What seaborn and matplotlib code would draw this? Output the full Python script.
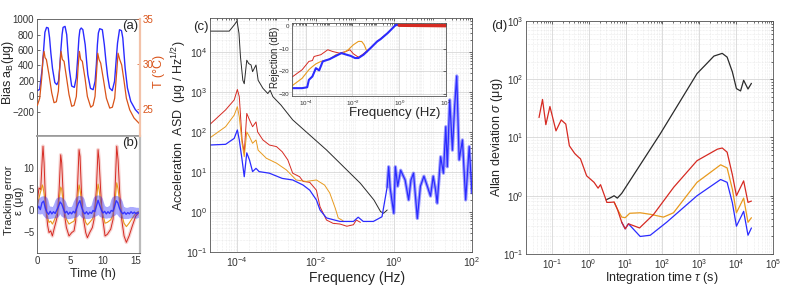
import numpy as np
import matplotlib
matplotlib.use("Agg")
import matplotlib.pyplot as plt
import seaborn as sns
from matplotlib.ticker import LogLocator, NullFormatter

sns.set_theme(style="white")
plt.rcParams['font.family'] = ['Liberation Sans', 'DejaVu Sans']
plt.rcParams['mathtext.fontset'] = 'custom'
plt.rcParams['mathtext.rm'] = 'Liberation Sans'
plt.rcParams['mathtext.it'] = 'Liberation Sans:italic'
plt.rcParams['mathtext.bf'] = 'Liberation Sans:bold'

# ---------------- (a) bias and temperature vs time ----------------
t_bias = [0.0, 0.4, 0.8, 1.0, 1.2, 1.45, 1.7, 1.9, 2.1, 2.35, 2.7, 3.0, 3.25, 3.45,
          3.6, 3.8, 3.95, 4.25, 4.5, 4.7, 4.9, 5.25, 5.65, 5.95, 6.15, 6.35, 6.5, 6.7,
          6.95, 7.3, 7.5, 7.7, 8.1, 8.5, 8.8, 9.0, 9.15, 9.3, 9.5, 9.9, 10.2, 10.45,
          10.7, 11.0, 11.4, 11.75, 11.95, 12.2, 12.5, 12.8, 13.0, 13.35, 13.7, 14.2,
          14.9, 15.6]
bias = [75, 90, 368, 600, 830, 892, 884, 760, 560, 360, 180, 153, 196, 380,
        583, 800, 892, 905, 798, 560, 350, 135, 118, 239, 480, 755, 860, 884,
        862, 669, 470, 282, 105, 88, 196, 420, 669, 820, 875, 862, 669, 450,
        262, 110, 75, 196, 420, 690, 862, 850, 755, 368, 110, -62,
        -170, -234]

t_temp = [0.05, 0.41, 0.71, 0.91, 1.07, 1.22, 1.42, 1.82, 2.23, 2.58, 2.93, 3.24, 3.44,
          3.64, 3.84, 4.1, 4.45, 4.85, 5.26, 5.61, 5.96, 6.22, 6.42, 6.62, 6.87, 7.28,
          7.63, 8.14, 8.49, 8.79, 9.05, 9.2, 9.4, 9.65, 10.06, 10.51, 11.02, 11.42,
          11.77, 12.08, 12.28, 12.53, 12.83, 13.19, 13.54, 14.05, 14.7, 15.61]
temp = [25.4, 26.2, 28.4, 30.7, 31.4, 30.7, 30.5, 28.8, 26.8, 25.7, 25.8, 27.0, 29.6,
        31.4, 30.5, 30.3, 28.6, 26.6, 25.3, 25.4, 26.4, 29.6, 31.4, 30.5, 30.3, 28.4,
        26.4, 25.2, 25.4, 26.4, 29.4, 31.2, 30.5, 30.1, 28.3, 26.2, 25.1, 25.2,
        26.2, 29.2, 31.2, 30.5, 29.9, 28.1, 26.2, 24.9, 24.0, 23.3]

# ---------------- (b) tracking error ----------------
t_err = [0.06, 0.31, 0.56, 0.81, 0.91, 1.07, 1.22, 1.42, 1.62, 1.82, 2.08, 2.33, 2.58,
         2.83, 3.09, 3.34, 3.59, 3.74, 3.94, 4.15, 4.45, 4.85, 5.26, 5.61, 5.86, 6.12,
         6.37, 6.52, 6.72, 6.97, 7.38, 7.63, 7.98, 8.39, 8.64, 8.99, 9.25, 9.4, 9.65,
         9.9, 10.31, 10.66, 11.17, 11.52, 11.82, 12.08, 12.28, 12.53, 12.83, 13.19,
         13.54, 13.95, 14.45, 14.96, 15.46]
err_red = [2.6, 5.3, 4.9, 12.7, 15.1, 11.2, 4.9, -0.5, -3.6, -5.2, -4.8, -6.0, -4.4,
           -2.9, -1.3, 4.6, 13.1, 11.2, 4.6, -0.9, -4.0, -6.0, -5.2, -4.8, -2.5, 4.9,
           14.3, 12.7, 4.9, -1.3, -5.2, -6.4, -5.2, -4.0, -2.1, 4.9, 14.3, 11.9, 4.6,
           -1.3, -6.0, -5.6, -4.4, -2.1, 4.9, 15.1, 11.9, 4.2, -2.1, -6.0,
           -7.5, -6.0, -3.6, -1.3, -0.5]
err_orange = [1.0, 3.0, 4.5, 6.0, 5.5, 4.0, 2.0, -0.5, -1.8, -2.8, -2.5, -3.2, -2.4,
              -1.5, -0.5, 2.5, 5.5, 5.0, 2.5, -0.3, -2.0, -3.2, -2.8, -2.5, -1.2, 2.5,
              6.0, 5.0, 2.5, -0.5, -2.8, -3.4, -2.8, -2.0, -1.0, 2.5, 6.2, 5.0, 2.0,
              -0.5, -3.0, -2.8, -2.2, -1.0, 2.5, 6.5, 5.0, 2.0, -1.0, -3.0,
              -3.8, -3.0, -1.8, -0.6, -0.2]
t_blue = [0.0, 0.25, 0.5, 0.75, 1.0, 1.25, 1.5, 1.75, 2.0, 2.25, 2.5, 2.75, 3.0, 3.25,
          3.5, 3.75, 4.0, 4.25, 4.5, 4.75, 5.0, 5.25, 5.5, 5.75, 6.0, 6.25, 6.5, 6.75,
          7.0, 7.25, 7.5, 7.75, 8.0, 8.25, 8.5, 8.75, 9.0, 9.25, 9.5, 9.75, 10.0, 10.25,
          10.5, 10.75, 11.0, 11.25, 11.5, 11.75, 12.0, 12.25, 12.5, 12.75, 13.0, 13.25,
          13.5, 13.75, 14.0, 14.25, 14.5, 14.75, 15.0, 15.25, 15.5]
err_blue = [0.3, 1.0, 0.2, 1.8, 2.2, 0.6, -0.4, -0.9, -0.2, -0.8, -0.3, -0.7, 0.1, 0.9,
            2.0, 1.5, 0.4, -0.6, -0.2, -0.9, -0.4, -0.8, -0.2, -0.6, 0.5, 1.6, 2.3, 0.8,
            -0.3, -0.8, -0.3, -0.9, -0.4, -0.7, 0.0, -0.3, 1.0, 2.4, 1.2, 0.1, -0.6, -0.2,
            -0.8, -0.3, -0.7, 0.0, -0.2, 0.9, 2.3, 1.8, 0.5, -0.3, -0.8, -0.4,
            -0.9, -0.5, -0.8, -0.3, -0.7, -0.4, -0.8, -0.5, -0.6]

# ---------------- (c) acceleration ASD ----------------
f_black = [1.9e-5, 6.2e-5, 8.3e-5, 9.8e-5, 1.1e-4, 1.2e-4, 1.38e-4, 1.5e-4, 1.74e-4,
           1.95e-4, 2.24e-4, 2.45e-4, 3.0e-4, 3.4e-4, 4.5e-4, 6.0e-4, 6.9e-4, 8.1e-4,
           1.3e-3, 2.6e-3, 1.9e-2, 0.14, 0.31, 0.46, 0.55, 0.68]
asd_black = [3.3e4, 3.3e4, 4.7e4, 5.9e4, 2.9e4, 7.6e3, 1.95e3, 1.6e3, 6.2e3,
             5.1e3, 4.7e3, 3.2e3, 4.7e3, 1.95e3, 1.23e3, 9.1e2, 1.1e3, 7.6e2,
             4.7e2, 2.0e2, 35.5, 5.2, 2.0, 1.02, 0.93, 1.12]

f_red = [1.9e-5, 5.0e-5, 8.3e-5, 1.0e-4, 1.12e-4, 1.32e-4, 1.5e-4, 1.74e-4, 2.04e-4,
         2.45e-4, 3.0e-4, 3.3e-4, 4.5e-4, 6.6e-4, 1.0e-3, 1.4e-3, 1.95e-3, 2.6e-3,
         3.9e-3, 4.8e-3, 7.1e-3, 1.05e-2, 1.3e-2, 1.9e-2, 2.8e-2, 4.2e-2, 6.3e-2,
         9.3e-2, 0.11, 0.14]
asd_red = [148, 355, 630, 1150, 760, 63, 30, 290, 200,
           135, 178, 100, 63, 47, 43, 32, 20, 9.3,
           7.6, 5.8, 5.5, 3.5, 1.35, 0.63, 0.52, 0.5, 0.44,
           0.48, 0.63, 0.55]

f_orange = [1.9e-5, 5.0e-5, 8.3e-5, 1.0e-4, 1.12e-4, 1.32e-4, 1.5e-4, 1.74e-4, 2.04e-4,
            2.45e-4, 3.0e-4, 3.4e-4, 5.5e-4, 1.0e-3, 1.8e-3, 3.2e-3, 5.8e-3, 1.05e-2,
            1.7e-2, 2.3e-2, 3.2e-2, 3.8e-2, 5.1e-2]
asd_orange = [69, 135, 263, 427, 240, 52, 24, 100, 76,
              52, 63, 35, 22, 16.6, 11.2, 6.3, 5.8, 6.3,
              4.7, 3.0, 1.23, 0.71, 0.6]

f_blue = [1.9e-5, 5.0e-5, 8.3e-5, 1.0e-4, 1.12e-4, 1.32e-4, 1.5e-4, 1.74e-4, 2.04e-4,
          2.45e-4, 3.0e-4, 3.6e-4, 6.6e-4, 1.4e-3, 2.6e-3, 4.8e-3, 7.1e-3, 1.05e-2,
          1.3e-2, 1.9e-2, 4.2e-2, 9.3e-2, 0.123, 0.166, 0.30, 0.50, 0.68, 0.74, 0.81,
          1.0, 1.1, 1.26, 1.5, 1.95, 2.4, 2.75, 3.2, 4.0, 4.8, 5.9, 7.2, 8.7, 10.2,
          11.7, 12.9, 15.8, 18.6, 21.4, 23.4, 27, 31.6, 36, 40.7, 47, 57, 69, 85, 100]
asd_blue = [47, 49, 69, 112, 63, 20, 7.6, 30, 20,
            10.2, 12.3, 10.2, 9.3, 6.9, 6.3, 4.7, 3.5, 2.0,
            1.12, 0.71, 0.58, 0.58, 0.74, 0.58, 0.58, 0.76, 4.3, 13.5, 3.9,
            0.93, 13.5, 4.4, 11, 6.3, 2.0, 6.3, 9.3, 0.69, 4.4, 7.8, 4.4, 2.5, 7.8,
            3.6, 1.66, 24, 9.3, 135, 13.5, 630, 35, 427, 2500, 20, 63, 2.0, 43, 3.0]

# ---------------- (c) inset: rejection ----------------
fi_red = [2.6e-5, 7.1e-5, 1.38e-4, 1.95e-4, 2.3e-4, 4.5e-4, 8.9e-4, 1.45e-3, 2.8e-3,
          5.2e-3, 7.8e-3, 1.1e-2, 1.8e-2, 2.5e-2, 5.9e-2, 0.115, 0.32, 0.72, 1.0, 100]
rej_red = [-22.6, -19.3, -15.6, -15.2, -13.4, -12.6, -10.4, -11.2, -11.9,
           -11.2, -10.4, -12.2, -13.7, -12.8, -9.7, -6.7, -3.0, 0.7, 0.5, 0.3]
fi_orange = [2.6e-5, 7.1e-5, 1.38e-4, 1.95e-4, 2.75e-4, 4.5e-4, 1.05e-3, 2.0e-3, 4.0e-3,
             6.6e-3, 1.1e-2, 1.8e-2, 2.5e-2, 3.2e-2, 3.9e-2, 4.2e-2]
rej_orange = [-26.5, -23.1, -19.3, -17.9, -16.7, -15.6, -14.6, -12.6, -11.9,
              -10.4, -8.2, -6.7, -6.7, -8.2, -10.4, -11.5]
fi_blue = [2.6e-5, 7.1e-5, 1.17e-4, 1.38e-4, 1.95e-4, 2.75e-4, 3.8e-4, 5.4e-4, 1.05e-3,
           2.0e-3, 3.4e-3, 5.6e-3, 8.3e-3, 1.3e-2, 1.8e-2, 3.0e-2, 5.9e-2, 0.115, 0.16,
           0.32, 0.52, 0.72, 1.0]
rej_blue = [-27.5, -27.5, -27.1, -23.8, -22.3, -18.6, -19.6, -15.6, -14.6,
            -13.1, -11.9, -12.6, -13.1, -14.1, -14.1, -12.6, -9.7, -6.7, -5.7,
            -3.0, -0.8, 0.7, 0.6]

# ---------------- (d) Allan deviation ----------------
tau_red = [0.045, 0.056, 0.069, 0.089, 0.13, 0.18, 0.24, 0.30, 0.42, 0.53, 0.60, 0.88,
           1.4, 1.8, 2.1, 2.96, 3.1, 3.8, 4.9, 6.0, 7.9, 9.8, 12, 24, 58, 203, 870,
           3100, 4200, 5700, 7900, 10200, 16000, 21000, 26000]
adev_red = [22, 45, 16.6, 34, 13, 20, 17, 7.2, 5.3, 4.6, 4.3, 2.2,
            1.7, 1.35, 1.55, 0.85, 0.77, 0.77, 0.78, 0.59, 0.35, 0.27, 0.33, 0.28, 0.48,
            1.4, 4.0, 6.3, 6.6, 5.6, 2.3, 1.0, 1.8, 0.77, 0.81]
tau_black = [2.96, 4.0, 4.9, 6.0, 7.9, 87, 870, 1600, 2500, 4200, 5700, 7900, 10200,
             13200, 16000, 21000, 26000]
adev_black = [0.85, 0.93, 1.0, 0.91, 1.1, 11.5, 125, 186, 250, 278, 240, 134, 69,
              63, 96, 68, 85]
tau_orange = [4.9, 6.0, 7.9, 9.8, 13, 25, 47, 107, 200, 870, 3800, 5700, 7900, 10200,
              16000, 21000, 26000]
adev_orange = [0.78, 0.59, 0.43, 0.42, 0.5, 0.51, 0.48, 0.43, 0.51, 1.7, 3.4, 3.0, 1.3,
               0.51, 0.91, 0.35, 0.42]
tau_blue = [7.9, 9.8, 12, 25, 47, 130, 870, 3800, 5700, 7900, 10200, 16000, 21000, 26000]
adev_blue = [0.35, 0.27, 0.33, 0.2, 0.21, 0.35, 1.0, 1.9, 1.7, 0.76, 0.3, 0.54, 0.21, 0.28]

BLUE = '#2b2bff'
RED = '#d62a22'
ORANGE = '#e89a1e'
TCOL = '#d95319'
BLACK = '#2a2a2a'
TICK_FS = 7


def line(ax, x, y, color, lw=0.8, alpha=1.0, z=2):
    sns.lineplot(x=x, y=y, ax=ax, color=color, linewidth=lw, alpha=alpha,
                 estimator=None, sort=False, legend=False, zorder=z)


def style(ax, fs=TICK_FS, box=True):
    ax.tick_params(which='both', direction='in', labelsize=fs, colors='#333333',
                   top=box, right=box, length=2.5, width=0.5, pad=2)
    ax.tick_params(which='minor', length=1.3)
    for s in ax.spines.values():
        s.set_color('#555555')
        s.set_linewidth(0.6)


def log_grid(ax):
    ax.grid(which='major', color='#cfcfcf', lw=0.5, ls='-')
    ax.grid(which='minor', color='#dadada', lw=0.4, ls=':')
    ax.set_axisbelow(True)


fig = plt.figure(figsize=(7.89, 2.86), dpi=100)
ax_a = fig.add_axes([0.0469, 0.5245, 0.1305, 0.409])
ax_b = fig.add_axes([0.0469, 0.1154, 0.1305, 0.409])
ax_c = fig.add_axes([0.2662, 0.1189, 0.332, 0.818])
ax_in = fig.add_axes([0.370, 0.6643, 0.1952, 0.2552])
ax_d = fig.add_axes([0.6667, 0.1119, 0.313, 0.8147])

# ---- (a)
line(ax_a, t_bias, bias, BLUE, lw=1.0)
ax_a.set_xlim(0, 15.6)
ax_a.set_ylim(-510, 1000)
ax_a.set_yticks([-200, 0, 200, 400, 600, 800, 1000])
ax_a.set_xticks([0, 5, 10, 15])
ax_a.set_xticklabels([])
style(ax_a, box=False)
ax_a.set_ylabel('Bias a$_{\\rm B}$(μg)', fontsize=9, labelpad=1)
ax_a.yaxis.set_label_coords(-0.205, 0.54)
ax_a.text(0.985, 0.99, '(a)', transform=ax_a.transAxes, ha='right', va='top', fontsize=9.5)
ax_t = ax_a.twinx()
line(ax_t, t_temp, temp, TCOL, lw=0.9)
ax_t.set_ylim(22, 35)
ax_t.set_yticks([25, 30, 35])
ax_t.tick_params(direction='in', labelsize=TICK_FS, colors=TCOL, length=2.5, width=0.5, pad=2)
ax_t.set_ylabel('T (°C)', fontsize=9, color=TCOL)
ax_t.yaxis.set_label_coords(1.13, 0.55)
for s in ax_t.spines.values():
    s.set_visible(False)
ax_t.spines['right'].set_visible(True)
ax_t.spines['right'].set_color('#f3c2a8')
ax_t.spines['right'].set_linewidth(1.6)
ax_a.spines['bottom'].set_color('#999999')
ax_a.spines['bottom'].set_linewidth(1.2)

# ---- (b)
line(ax_b, t_err, err_red, RED, lw=2.6, alpha=0.2)
line(ax_b, t_err, err_red, RED, lw=0.7)
line(ax_b, t_err, err_orange, ORANGE, lw=0.8)
line(ax_b, t_blue, err_blue, BLUE, lw=7, alpha=0.4)
line(ax_b, t_blue, err_blue, BLUE, lw=1.0, alpha=0.9)
ax_b.set_xlim(0, 15.6)
ax_b.set_ylim(-10, 17.5)
ax_b.set_yticks([-5, 0, 5, 10])
ax_b.set_xticks([0, 5, 10, 15])
style(ax_b, box=False)
ax_b.spines['right'].set_color('#bbbbbb')
ax_b.spines['right'].set_linewidth(1.6)
ax_b.spines['top'].set_color('#999999')
ax_b.spines['top'].set_linewidth(1.2)
ax_b.set_ylabel('Tracking error\nε (μg)', fontsize=8, linespacing=1.0)
ax_b.yaxis.set_label_coords(-0.13, 0.45)
ax_b.set_xlabel('Time (h)', fontsize=9)
ax_b.xaxis.set_label_coords(0.54, -0.125)
ax_b.text(0.985, 0.99, '(b)', transform=ax_b.transAxes, ha='right', va='top', fontsize=9.5)

# ---- (c)
ax_c.set_xscale('log')
ax_c.set_yscale('log')
line(ax_c, f_black, asd_black, BLACK, lw=0.7)
line(ax_c, f_red, asd_red, RED, lw=0.7)
line(ax_c, f_orange, asd_orange, ORANGE, lw=0.7)
hf = [i for i, f in enumerate(f_blue) if f >= 0.6]
line(ax_c, [f_blue[i] for i in hf], [asd_blue[i] for i in hf], BLUE, lw=2.4, alpha=0.45)
line(ax_c, f_blue, asd_blue, BLUE, lw=0.9)
ax_c.set_xlim(2e-5, 100)
ax_c.set_ylim(0.1, 7e4)
ax_c.set_xticks([1e-4, 1e-2, 1, 1e2])
ax_c.set_yticks([1e-1, 1, 1e1, 1e2, 1e3, 1e4])
ax_c.xaxis.set_minor_locator(LogLocator(base=10, subs=np.arange(1, 10), numticks=30))
ax_c.yaxis.set_minor_locator(LogLocator(base=10, subs=np.arange(1, 10), numticks=30))
ax_c.xaxis.set_minor_formatter(NullFormatter())
ax_c.yaxis.set_minor_formatter(NullFormatter())
style(ax_c, fs=7.5)
log_grid(ax_c)
ax_c.set_ylabel('Acceleration  ASD  (μg / Hz$^{1/2}$)', fontsize=9)
ax_c.yaxis.set_label_coords(-0.08, 0.54)
ax_c.set_xlabel('Frequency (Hz)', fontsize=10)
ax_c.xaxis.set_label_coords(0.56, -0.08)
ax_c.text(-0.004, 0.962, '(c)', transform=ax_c.transAxes, ha='right', va='center', fontsize=9.5)

# inset
ax_in.set_xscale('log')
line(ax_in, fi_red, rej_red, RED, lw=0.7)
line(ax_in, fi_orange, rej_orange, ORANGE, lw=0.8)
line(ax_in, fi_blue, rej_blue, BLUE, lw=1.5)
hi = [i for i, f in enumerate(fi_red) if f >= 0.9]
line(ax_in, [fi_red[i] for i in hi], [rej_red[i] for i in hi], RED, lw=2.4)
ax_in.set_xlim(2.6e-5, 100)
ax_in.set_ylim(-31, 1.5)
ax_in.set_xticks([1e-4, 1e-2, 1, 1e2])
ax_in.set_yticks([0, -10, -20, -30])
ax_in.xaxis.set_minor_locator(LogLocator(base=10, subs=np.arange(1, 10), numticks=30))
ax_in.xaxis.set_minor_formatter(NullFormatter())
style(ax_in, fs=4.5)
log_grid(ax_in)
ax_in.set_ylabel('Rejection (dB)', fontsize=7)
ax_in.yaxis.set_label_coords(-0.078, 0.53)
ax_in.set_xlabel('Frequency (Hz)', fontsize=9.5)
ax_in.xaxis.set_label_coords(0.667, -0.15)
ax_in.set_facecolor('white')

# ---- (d)
ax_d.set_xscale('log')
ax_d.set_yscale('log')
line(ax_d, tau_black, adev_black, BLACK, lw=0.9)
line(ax_d, tau_blue, adev_blue, BLUE, lw=0.9)
line(ax_d, tau_orange, adev_orange, ORANGE, lw=0.9)
line(ax_d, tau_red, adev_red, RED, lw=0.9)
ax_d.set_xlim(0.02, 1e5)
ax_d.set_ylim(0.1, 1000)
ax_d.set_xticks([1e-1, 1, 1e1, 1e2, 1e3, 1e4, 1e5])
ax_d.set_yticks([1e-1, 1, 1e1, 1e2, 1e3])
ax_d.xaxis.set_minor_locator(LogLocator(base=10, subs=np.arange(1, 10), numticks=30))
ax_d.yaxis.set_minor_locator(LogLocator(base=10, subs=np.arange(1, 10), numticks=30))
ax_d.xaxis.set_minor_formatter(NullFormatter())
ax_d.yaxis.set_minor_formatter(NullFormatter())
style(ax_d, fs=7)
log_grid(ax_d)
ax_d.set_ylabel('Allan deviation $\\sigma$ (μg)', fontsize=9)
ax_d.yaxis.set_label_coords(-0.085, 0.5)
ax_d.set_xlabel('Integration time $\\tau$ (s)', fontsize=9)
ax_d.xaxis.set_label_coords(0.55, -0.07)
ax_d.text(-0.075, 0.979, '(d)', transform=ax_d.transAxes, ha='right', va='center', fontsize=9.5)

fig.savefig('out.png', dpi=100)
